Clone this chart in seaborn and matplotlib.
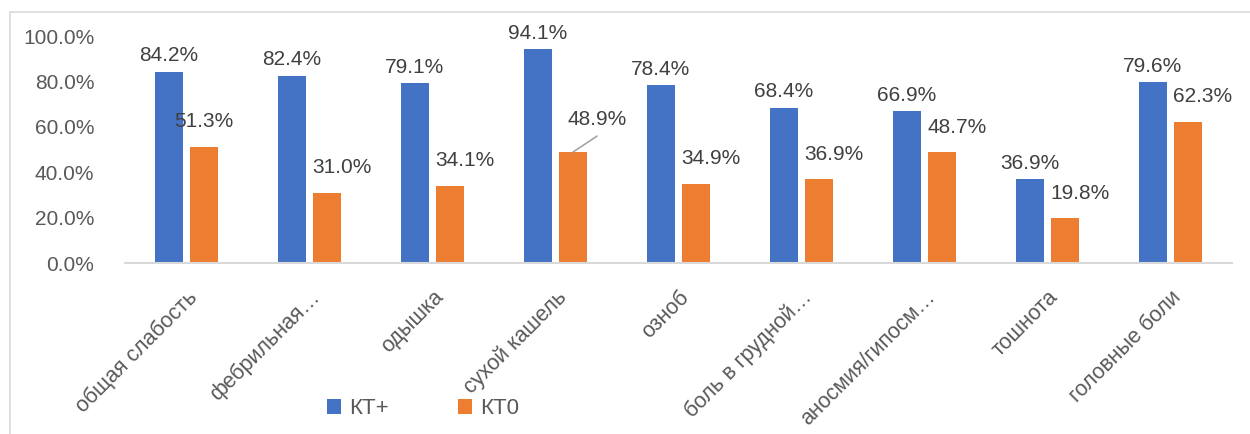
import matplotlib
matplotlib.use("Agg")
import matplotlib.pyplot as plt
from matplotlib.patches import Rectangle
import seaborn as sns
import pandas as pd

# Symptom frequencies by CT result
categories = ["общая слабость", "фебрильная…", "одышка", "сухой кашель", "озноб",
              "боль в грудной…", "аносмия/гипосм…", "тошнота", "головные боли"]
kt_plus = [84.2, 82.4, 79.1, 94.1, 78.4, 68.4, 66.9, 36.9, 79.6]
kt_zero = [51.3, 31.0, 34.1, 48.9, 34.9, 36.9, 48.7, 19.8, 62.3]
series_names = ["КТ+", "КТ0"]
yticks = [0, 20, 40, 60, 80, 100]

df = pd.DataFrame({
    "symptom": categories * 2,
    "group": [series_names[0]] * len(categories) + [series_names[1]] * len(categories),
    "value": kt_plus + kt_zero,
})

sns.set_theme(style="white")
plt.rcParams["font.family"] = ["Liberation Sans", "DejaVu Sans"]

colors = {"КТ+": "#4472C4", "КТ0": "#ED7D31"}
label_color = "#404040"
axis_text = "#595959"

fig = plt.figure(figsize=(12.5, 4.34), dpi=100)
ax = fig.add_axes([0.1, 0.394, 0.8856, 0.523])

sns.barplot(data=df, x="symptom", y="value", hue="group", palette=colors,
            width=0.57, gap=0.2, ax=ax, legend=True, saturation=1, linewidth=0)

ax.set_xlim(-0.5, len(categories) - 0.5)
ax.set_ylim(0, 100)
ax.set_yticks(yticks)
ax.set_yticklabels([f"{v:.1f}%" for v in yticks], fontsize=15, color=axis_text)
ax.tick_params(axis="y", length=0, pad=22)
ax.tick_params(axis="x", length=0, pad=17)
ax.set_xticks(range(len(categories)))
ax.set_xticklabels(categories, rotation=45, ha="right", rotation_mode="anchor",
                   fontsize=15.5, color=axis_text)
ax.set_xlabel("")
ax.set_ylabel("")
for side in ["top", "right", "left"]:
    ax.spines[side].set_visible(False)
ax.spines["bottom"].set_color("#D9D9D9")
ax.spines["bottom"].set_linewidth(1.5)

# Data labels
pt = 72 / 100  # points per pixel
for i, bar in enumerate(ax.containers[0]):
    x = bar.get_x() + bar.get_width() / 2
    ax.annotate(f"{kt_plus[i]:.1f}%", (x, kt_plus[i]), xytext=(0, 16 * pt),
                textcoords="offset points", ha="center", va="center",
                fontsize=15, color=label_color)
for i, bar in enumerate(ax.containers[1]):
    x = bar.get_x() + bar.get_width() / 2
    dx, dy = 15, 25
    if i == 0:
        dx = 0
    if i == 3:
        dx, dy = 24, 33
    ax.annotate(f"{kt_zero[i]:.1f}%", (x, kt_zero[i]), xytext=(dx * pt, dy * pt),
                textcoords="offset points", ha="center", va="center",
                fontsize=15, color=label_color)
    if i == 3:
        ax.annotate("", (x, kt_zero[i]), xytext=(x + 0.195, kt_zero[i] + 7),
                    arrowprops=dict(arrowstyle="-", color="#A6A6A6", lw=1.2,
                                    shrinkA=0, shrinkB=0))

# Legend below the chart
leg = ax.legend(loc="center", bbox_to_anchor=(0.269, -0.643), bbox_transform=ax.transAxes,
                ncol=2, frameon=False, fontsize=16, handlelength=0.65, handleheight=0.65,
                columnspacing=3.1, handletextpad=0.35)
for t in leg.get_texts():
    t.set_color(axis_text)

# Chart area border
fig.patches.append(Rectangle((10 / 1250, -0.2), 1.2, 1.2 - 12 / 434,
                             transform=fig.transFigure, fill=False,
                             edgecolor="#D9D9D9", linewidth=1.2))

fig.savefig("out.png", dpi=100)
